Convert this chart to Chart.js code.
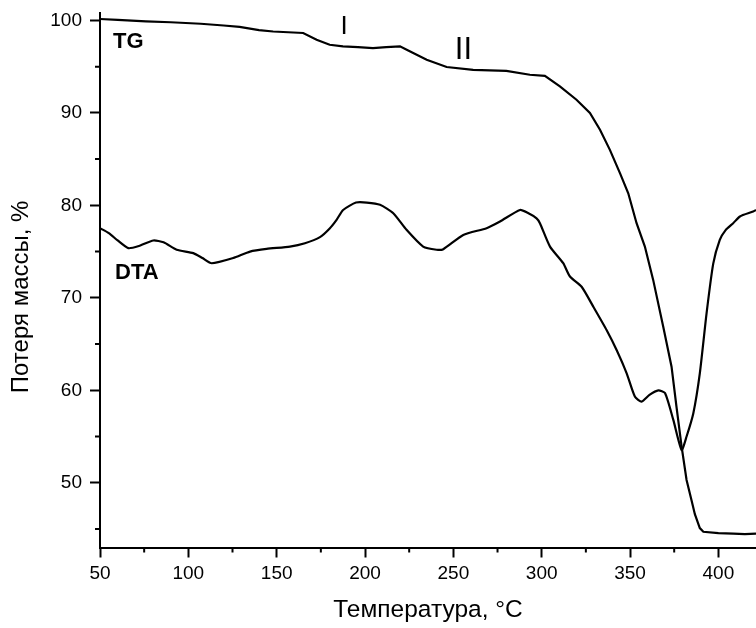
<!DOCTYPE html>
<html>
<head>
<meta charset="utf-8">
<script src="https://cdn.jsdelivr.net/npm/chart.js@4.4.1/dist/chart.umd.min.js"></script>
<style>
  html, body { margin: 0; padding: 0; background: #fff; }
  #wrap { width: 756px; height: 628px; }
</style>
</head>
<body>
<div id="wrap"><canvas id="tgChart"></canvas></div>
<script>
// Data kurva TG (temperatur, massa %)
const tgTemp = [50, 60, 76, 90, 107, 120, 129, 140, 148, 165, 172.6, 180, 187.5, 196, 204.5, 212, 219.8, 223.6,
  234.9, 246.2, 261.2, 280, 293.3, 301.8, 310.3, 319.7, 327.3, 333, 338.6, 344.3, 349, 353.7, 358.4,
  363.1, 368.8, 373.5, 376.3, 379.2, 382, 384.8, 386.7, 389.5, 391.5, 400, 408.4, 415, 421.3];
const tgMass = [100.15, 100.05, 99.9, 99.8, 99.64, 99.45, 99.29, 98.95, 98.8, 98.64, 97.9, 97.37, 97.19, 97.1, 97.0, 97.1, 97.19, 96.83,
  95.75, 94.96, 94.66, 94.55, 94.12, 94.0, 92.86, 91.42, 89.98, 88.17, 86.0, 83.48, 81.3, 78.07, 75.54,
  71.94, 66.88, 62.55, 58.2, 53.9, 50.3, 48.1, 46.6, 45.1, 44.7, 44.55, 44.5, 44.45, 44.5];

// Data kurva DTA
const dtaTemp = [50, 55, 60, 66, 72, 80.2, 86, 93.4, 102.8, 108, 113.2, 125.4, 134.9, 144.3, 157.5, 166, 174.5, 180,
  183.9, 187.6, 194.9, 201, 208.5, 216, 223.5, 232.9, 240.5, 244.3, 255.6, 268.8, 276.4, 287.7, 292,
  297.1, 299, 304.7, 312.2, 316, 322.6, 329.2, 336.8, 342.4, 348.1, 352.8, 356.6, 361, 366, 369.8,
  374.5, 379.2, 382, 385.8, 389.5, 393.3, 397.1, 400.8, 404, 408.4, 412.2, 419.7, 421.3];
const dtaValue = [77.53, 77.0, 76.2, 75.37, 75.6, 76.2, 76.0, 75.2, 74.83, 74.3, 73.74, 74.3, 75.0, 75.29, 75.54, 75.9, 76.56, 77.5,
  78.43, 79.5, 80.3, 80.3, 80.06, 79.15, 77.35, 75.54, 75.2, 75.26, 76.8, 77.53, 78.25, 79.5, 79.2,
  78.6, 78.07, 75.54, 73.74, 72.3, 71.2, 69.05, 66.5, 64.36, 61.84, 59.3, 58.77, 59.5, 60.0, 59.7,
  56.8, 53.54, 55.0, 57.5, 61.84, 68.3, 73.7, 76.26, 77.3, 78.07, 78.8, 79.33, 79.5];

// Tick sumbu
const xTicks = [50, 100, 150, 200, 250, 300, 350, 400];
const xMinorTicks = [75, 125, 175, 225, 275, 325, 375];
const yTicks = [50, 60, 70, 80, 90, 100];
const yMinorTicks = [45, 55, 65, 75, 85, 95];

// Label teks di dalam grafik (posisi dalam koordinat data)
const noteText = ['TG', 'DTA', 'I', 'II'];
const noteX = [57.4, 58.5, 188.2, 255.7];
const noteY = [97.05, 72.05, 98.56, 95.86];
const noteFont = ['bold 22px "Liberation Sans", Arial', 'bold 22px "Liberation Sans", Arial',
  '26px "Liberation Sans", Arial', '31px "Liberation Sans", Arial'];
const noteAlign = ['left', 'left', 'center', 'center'];

const FONT = '"Liberation Sans", Arial, sans-serif';

// Plugin: tick minor + label kurva
const extrasPlugin = {
  id: 'extras',
  afterDraw(chart) {
    const { ctx, chartArea, scales: { x, y } } = chart;
    ctx.save();
    ctx.strokeStyle = '#000';
    ctx.lineWidth = 2;
    ctx.beginPath();
    yMinorTicks.forEach(v => {
      const py = y.getPixelForValue(v);
      ctx.moveTo(chartArea.left, py);
      ctx.lineTo(chartArea.left - 5, py);
    });
    xMinorTicks.forEach(v => {
      const px = x.getPixelForValue(v);
      ctx.moveTo(px, chartArea.bottom);
      ctx.lineTo(px, chartArea.bottom + 5);
    });
    ctx.stroke();

    ctx.fillStyle = '#000';
    ctx.textBaseline = 'alphabetic';
    noteText.forEach((t, i) => {
      ctx.font = noteFont[i];
      ctx.textAlign = noteAlign[i];
      ctx.fillText(t, x.getPixelForValue(noteX[i]), y.getPixelForValue(noteY[i]));
    });
    ctx.restore();
  }
};

const toPoints = (xs, ys) => xs.map((v, i) => ({ x: v, y: ys[i] }));

const ctx = document.getElementById('tgChart').getContext('2d');
new Chart(ctx, {
  type: 'line',
  data: {
    datasets: [
      { label: 'TG', data: toPoints(tgTemp, tgMass), borderColor: '#000', borderWidth: 2.2, pointRadius: 0, tension: 0 },
      { label: 'DTA', data: toPoints(dtaTemp, dtaValue), borderColor: '#000', borderWidth: 2.2, pointRadius: 0, tension: 0.2 }
    ]
  },
  options: {
    responsive: true,
    maintainAspectRatio: false,
    animation: false,
    layout: { padding: { top: 13, left: 0, right: 0, bottom: 0 } },
    plugins: { legend: { display: false }, tooltip: { enabled: false } },
    scales: {
      x: {
        type: 'linear',
        min: 50, max: 421.3,
        afterBuildTicks: s => { s.ticks = xTicks.map(v => ({ value: v })); },
        afterFit: s => { s.height = 80.5; s.paddingLeft = 0; s.paddingRight = 0; },
        grid: { drawOnChartArea: false, drawTicks: true, tickLength: 10, tickWidth: 2, tickColor: '#000' },
        border: { display: true, color: '#000', width: 2 },
        ticks: { color: '#000', font: { family: FONT, size: 19 }, padding: 5, autoSkip: false, maxRotation: 0 },
        title: { display: true, text: 'Температура, °C', color: '#000', font: { family: FONT, size: 24.5 }, padding: { top: 0, bottom: 3 } }
      },
      y: {
        min: 43.0, max: 100.8,
        afterBuildTicks: s => { s.ticks = yTicks.map(v => ({ value: v })); },
        afterFit: s => { s.width = 100; s.paddingTop = 0; s.paddingBottom = 0; },
        grid: { drawOnChartArea: false, drawTicks: true, tickLength: 10, tickWidth: 2, tickColor: '#000' },
        border: { display: true, color: '#000', width: 2 },
        ticks: { color: '#000', font: { family: FONT, size: 19 }, padding: 8 },
        title: { display: true, text: 'Потеря массы, %     ', color: '#000', font: { family: FONT, size: 24 }, padding: { top: 7, bottom: 0 } }
      }
    }
  },
  plugins: [extrasPlugin]
});
</script>
</body>
</html>
